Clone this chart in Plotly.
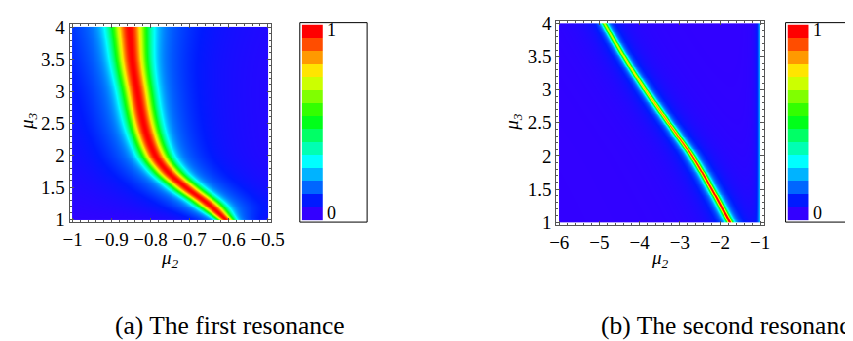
import numpy as np
import plotly.graph_objects as go

W, H = 853, 341

# ---------------- data ----------------
# legend colour bands, value 0 (bottom) -> 1 (top)
band_colors = ["#3300FF", "#001AFF", "#0066FF", "#00B3FF", "#00FFFF",
               "#00FFB3", "#00FF66", "#00FF1A", "#33FF00", "#80FF00",
               "#CCFF00", "#FFE500", "#FF9900", "#FF4D00", "#FF0000"]
band_values = [i / 14 for i in range(15)]

# panel (a): first resonance ridge (crest position and spread in mu2 at each mu3)
a_mu3 = [1.0, 1.25, 1.5, 1.75, 2.0, 2.5, 3.0, 3.5, 4.0]
a_centre = [-0.6075, -0.6535, -0.7095, -0.757, -0.788, -0.818, -0.834, -0.8475, -0.854]
a_sigma = [0.015, 0.023, 0.025, 0.025, 0.025, 0.026, 0.027, 0.029, 0.032]
a_core, a_glow, a_glow_ratio = 0.76, 0.24, 3.8

# panel (b): second resonance ridge
b_mu3 = [1.0, 1.5, 2.0, 2.5, 3.0, 3.5, 4.0]
b_centre = [-1.745, -2.20, -2.69, -3.28, -3.85, -4.39, -4.87]
b_peak = [1.0, 0.95, 0.9, 0.82, 0.76, 0.7, 0.66]
b_halfwidth = [0.07, 0.07, 0.068, 0.066, 0.064, 0.062, 0.06]
b_glow, b_glow_width = 0.05, 0.5
b_edge_peak, b_edge_width = 0.2, 0.05   # faint strip at mu2 = -1

a_xticks = [-1, -0.9, -0.8, -0.7, -0.6, -0.5]
a_xtext = ["\u22121", "\u22120.9", "\u22120.8", "\u22120.7", "\u22120.6", "\u22120.5"]
b_xticks = [-6, -5, -4, -3, -2, -1]
b_xtext = ["\u22126", "\u22125", "\u22124", "\u22123", "\u22122", "\u22121"]
yticks = [1, 1.5, 2, 2.5, 3, 3.5, 4]
ytext = ["1", "1.5", "2", "2.5", "3", "3.5", "4"]

captions = ["(a) The first resonance", "(b) The second resonance"]


def pchip(xk, yk, x):
    """Monotone cubic through the read ridge points (smooth crest line)."""
    xk = np.asarray(xk, float)
    yk = np.asarray(yk, float)
    h = np.diff(xk)
    delta = np.diff(yk) / h
    n = len(xk)
    d = np.zeros(n)
    d[0], d[-1] = delta[0], delta[-1]
    for k in range(1, n - 1):
        if delta[k - 1] * delta[k] > 0:
            w1 = 2 * h[k] + h[k - 1]
            w2 = h[k] + 2 * h[k - 1]
            d[k] = (w1 + w2) / (w1 / delta[k - 1] + w2 / delta[k])
    x = np.asarray(x, float)
    i = np.clip(np.searchsorted(xk, x) - 1, 0, n - 2)
    t = (x - xk[i]) / h[i]
    h00 = 2 * t**3 - 3 * t**2 + 1
    h10 = t**3 - 2 * t**2 + t
    h01 = -2 * t**3 + 3 * t**2
    h11 = t**3 - t**2
    return h00 * yk[i] + h10 * h[i] * d[i] + h01 * yk[i + 1] + h11 * h[i] * d[i + 1]


# ---------------- fields ----------------
ax_ = np.linspace(-1, -0.5, 201)
ay_ = np.linspace(1, 4, 201)
XA, YA = np.meshgrid(ax_, ay_)
cA = pchip(a_mu3, a_centre, YA)
sA = pchip(a_mu3, a_sigma, YA)
dA = XA - cA
ZA = a_core * np.exp(-0.5 * (dA / sA) ** 2) + a_glow / (1 + (dA / (a_glow_ratio * sA)) ** 2)

bx_ = np.linspace(-6, -1, 413)
by_ = np.linspace(1, 4, 415)
XB, YB = np.meshgrid(bx_, by_)
cB = pchip(b_mu3, b_centre, YB)
wB = pchip(b_mu3, b_halfwidth, YB)
pB = pchip(b_mu3, b_peak, YB)
dB = XB - cB
ZB = (pB / (1 + (dB / wB) ** 2) + b_glow / (1 + (dB / b_glow_width) ** 2)
      + b_edge_peak / (1 + ((XB + 1) / b_edge_width) ** 2))
ZB = np.clip(ZB, 0, 1)

cs = [[v, c] for v, c in zip(band_values, band_colors)]

fig = go.Figure()
fig.add_trace(go.Heatmap(x=ax_, y=ay_, z=ZA, colorscale=cs, zmin=0, zmax=1,
                         showscale=False, xaxis="x", yaxis="y", hoverinfo="skip"))
fig.add_trace(go.Heatmap(x=bx_, y=by_, z=ZB, colorscale=cs, zmin=0, zmax=1,
                         showscale=False, xaxis="x2", yaxis="y2", hoverinfo="skip"))
# legends as small band heatmaps
for xa, ya in [("x3", "y3"), ("x4", "y4")]:
    fig.add_trace(go.Heatmap(x=[0], y=list(range(15)), z=[[v] for v in band_values],
                             colorscale=cs, zmin=0, zmax=1, showscale=False,
                             xaxis=xa, yaxis=ya, hoverinfo="skip"))


def px(x):
    return x / W


def py(y):
    return 1 - y / H


FAM = "Liberation Serif, Times New Roman, Times, serif"
FR = "#555555"
font = dict(family=FAM, size=19, color="black")


def frame_axis(domain, rng, tickvals, ticktext, minor_dtick, anchor):
    return dict(domain=domain, range=rng, anchor=anchor, showgrid=False, zeroline=False,
                showline=True, linecolor=FR, linewidth=1, mirror="allticks",
                ticks="inside", ticklen=4, tickcolor=FR, tickwidth=1,
                tickvals=tickvals, ticktext=ticktext, tickfont=font,
                minor=dict(ticks="inside", ticklen=2, tickcolor=FR, dtick=minor_dtick,
                           tick0=0, showgrid=False),
                fixedrange=True)


layout = dict(
    width=W, height=H, margin=dict(l=0, r=0, t=0, b=0),
    paper_bgcolor="white", plot_bgcolor="white", showlegend=False,
    font=dict(family=FAM, size=19, color="black"),
    xaxis=frame_axis([px(56), px(262)], [-1.0075, -0.4925], a_xticks, a_xtext, 0.02, "y"),
    yaxis=frame_axis([py(217), py(10)], [0.955, 4.06], yticks, ytext, 0.1, "x"),
    xaxis2=frame_axis([px(555), px(768)], [-6.073, -0.903], b_xticks, b_xtext, 0.2, "y2"),
    yaxis2=frame_axis([py(220), py(7)], [0.9565, 4.0435], yticks, ytext, 0.1, "x2"),
    xaxis3=dict(domain=[px(294), px(316)], range=[-0.5, 0.5], visible=False, anchor="y3"),
    yaxis3=dict(domain=[py(215), py(11)], range=[-0.5, 14.5], visible=False, anchor="x3"),
    xaxis4=dict(domain=[px(792), px(814)], range=[-0.5, 0.5], visible=False, anchor="y4"),
    yaxis4=dict(domain=[py(215), py(11)], range=[-0.5, 14.5], visible=False, anchor="x4"),
)
fig.update_layout(**layout)

shapes = []
for x0, x1 in [(292, 361), (790, 852)]:
    shapes.append(dict(type="rect", xref="paper", yref="paper", x0=px(x0), x1=px(x1),
                       y0=py(217), y1=py(9), line=dict(color="black", width=1)))
fig.update_layout(shapes=shapes)

ann = []


def add(text, x, y, size=19, angle=0, xanchor="center"):
    ann.append(dict(text=text, x=px(x), y=py(y), xref="paper", yref="paper",
                    showarrow=False, textangle=angle, xanchor=xanchor, yanchor="middle",
                    borderpad=0,
                    font=dict(family=FAM, size=size, color="black")))


add("<i>\u03bc<sub>3</sub></i>", 14, 112, angle=-90)
add("<i>\u03bc<sub>2</sub></i>", 159, 255)
add("<i>\u03bc<sub>3</sub></i>", 511, 112, angle=-90)
add("<i>\u03bc<sub>2</sub></i>", 661, 256)
for bx in (319, 817):
    add("1", bx, 17, size=18, xanchor="left")
    add("0", bx, 208, size=18, xanchor="left")
add(captions[0], 102, 325, size=25.5, xanchor="left")
add(captions[1], 600, 325, size=25.5, xanchor="left")
fig.update_layout(annotations=ann)

fig.write_html("out.html")
